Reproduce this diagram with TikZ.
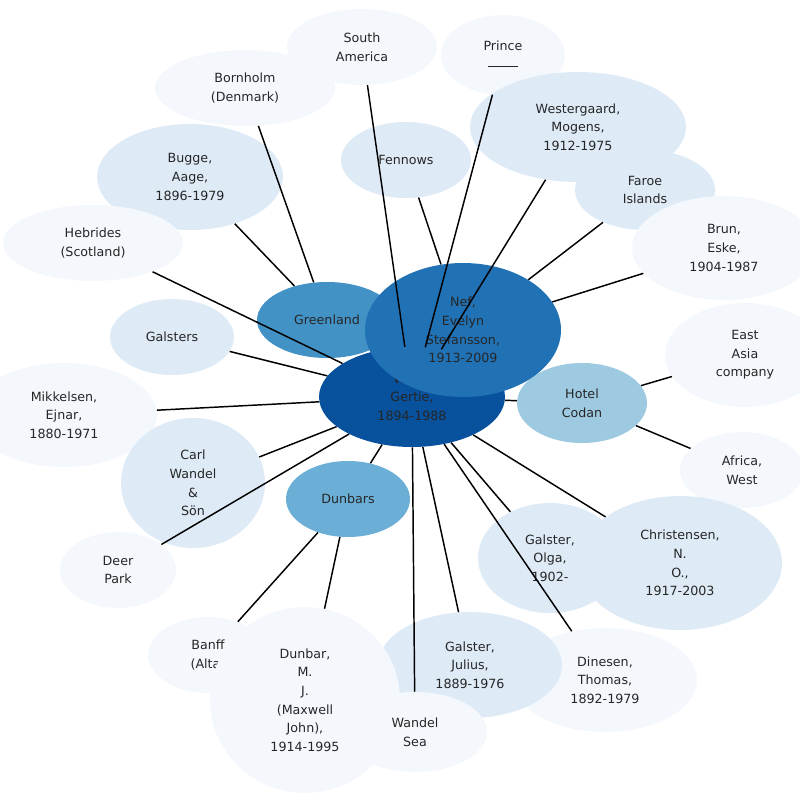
\documentclass[tikz,border=0pt]{standalone}
\usepackage{fontspec}
\setmainfont{DejaVu Sans}
\usetikzlibrary{shapes.geometric}
\definecolor{cA}{HTML}{08519C}
\definecolor{cB}{HTML}{2171B5}
\definecolor{cC}{HTML}{4292C6}
\definecolor{cD}{HTML}{6BAED6}
\definecolor{cE}{HTML}{9ECAE1}
\definecolor{cL}{HTML}{DEEBF7}
\definecolor{cV}{HTML}{F4F8FD}
\tikzset{
 nd/.style args={#1/#2/#3}{ellipse,inner sep=0pt,minimum width=#1*0.75pt,minimum height=#2*0.75pt,fill=#3,align=center,font=\fontsize{9.5}{14}\selectfont,text=black!85},
 ed/.style={line width=1.1pt,black}
}
\begin{document}
\begin{tikzpicture}[x=0.75pt,y=-0.75pt]
\useasboundingbox (0,0) rectangle (800,800);
\node[nd=150/76/cV] (sa) at (362,47) {South\\America};
\node[nd=124/80/cV] (pr) at (503,55) {Prince\\\rule[2pt]{22pt}{0.4pt}};
\node[nd=180/76/cV] (bo) at (245,88) {Bornholm\\(Denmark)};
\node[nd=130/76/cL] (fe) at (406,160) {Fennows};
\node[nd=216/110/cL] (we) at (578,127) {Westergaard,\\Mogens,\\1912-1975};
\node[nd=140/80/cL] (fa) at (645,190) {Faroe\\Islands};
\node[nd=186/106/cL] (bu) at (190,177) {Bugge,\\Aage,\\1896-1979};
\node[nd=180/76/cV] (he) at (93,243) {Hebrides\\(Scotland)};
\node[nd=184/104/cV] (br) at (724,248) {Brun,\\Eske,\\1904-1987};
\node[nd=124/76/cL] (ga) at (172,337) {Galsters};
\node[nd=160/104/cV] (ea) at (745,355) {East\\Asia\\company};
\node[nd=186/104/cV] (mi) at (64,415) {Mikkelsen,\\Ejnar,\\1880-1971};
\node[nd=144/130/cL] (cw) at (193,483) {Carl\\Wandel\\\&\\Sön};
\node[nd=124/76/cV] (af) at (742,470) {Africa,\\West};
\node[nd=116/76/cV] (dp) at (118,570) {Deer\\Park};
\node[nd=144/110/cL] (go) at (550,558) {Galster,\\Olga,\\1902-};
\node[nd=204/134/cL] (ch) at (680,563) {Christensen,\\N.\\O.,\\1917-2003};
\node[nd=184/104/cV] (di) at (605,680) {Dinesen,\\Thomas,\\1892-1979};
\node[nd=184/106/cL] (gj) at (470,665) {Galster,\\Julius,\\1889-1976};
\node[nd=120/76/cV] (bf) at (208,655) {Banff\\(Alta)};
\node[nd=190/186/cV] (dm) at (305,700) {Dunbar,\\M.\\J.\\(Maxwell\\John),\\1914-1995};
\node[nd=144/80/cV] (ws) at (415,732) {Wandel\\Sea};
\node[nd=140/76/cC] (gr) at (327,320) {Greenland};
\node[nd=124/76/cD] (du) at (348,499) {Dunbars};
\node[nd=130/80/cE] (hc) at (582,403) {Hotel\\Codan};
\node[nd=186/100/cA] (wl) at (412,397) {Wells,\\Gertie,\\1894-1988};
\node[nd=196/134/cB] (ne) at (463,330) {Nef,\\Evelyn\\Stefansson,\\1913-2009};
\foreach \t in {sa,pr,we,he,ga,mi,cw,dp,go,ch,di,gj,ws,du,hc}
  \draw[ed] (wl) -- (\t);
\foreach \t in {fe,fa,br}
  \draw[ed] (ne) -- (\t);
\foreach \t in {bo,bu}
  \draw[ed] (gr) -- (\t);
\foreach \t in {ea,af}
  \draw[ed] (hc) -- (\t);
\foreach \t in {bf,dm}
  \draw[ed] (du) -- (\t);
\end{tikzpicture}
\end{document}
